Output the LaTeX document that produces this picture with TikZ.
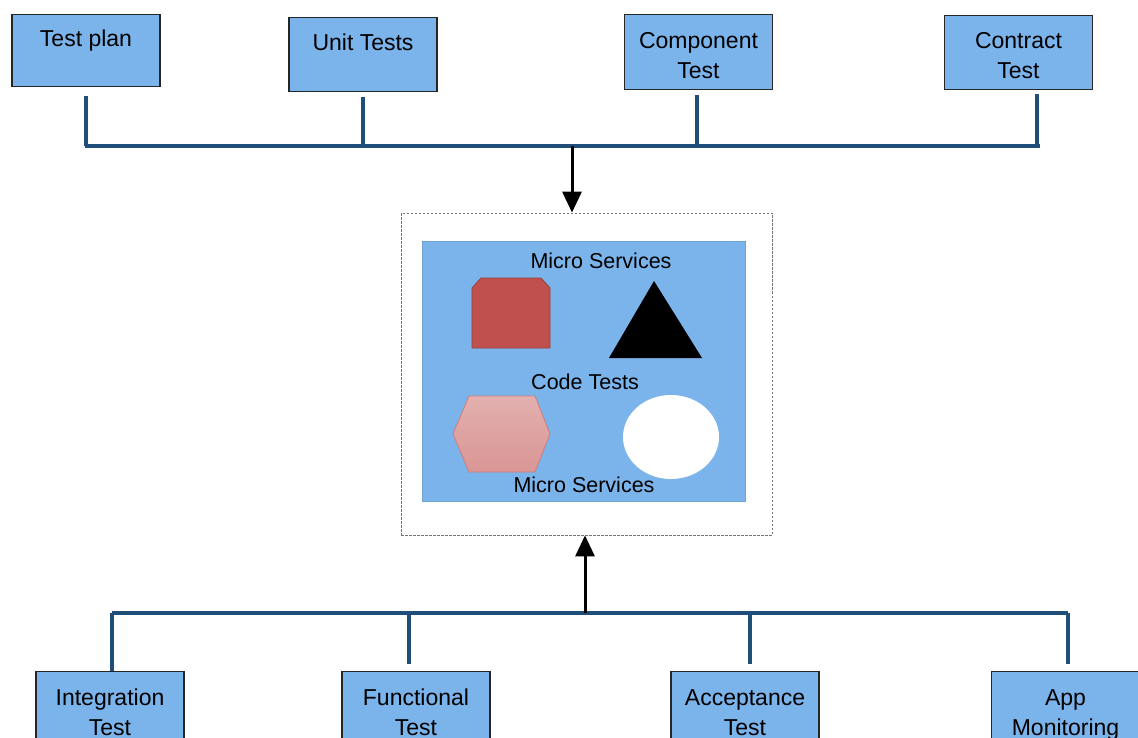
\documentclass[tikz,border=0pt]{standalone}
\usepackage{fontspec}
\setmainfont{Liberation Sans}
\usetikzlibrary{arrows.meta}
\definecolor{boxblue}{HTML}{7BB3EB}
\definecolor{busblue}{HTML}{1F4E79}
\definecolor{octred}{HTML}{C0504D}
\begin{document}
\begin{tikzpicture}[
        x=1pt, y=-1pt,
        testbox/.style={draw=black!85, fill=boxblue, line width=1.4pt, anchor=north,
            minimum width=148pt, minimum height=72pt, inner sep=0pt, align=center,
            text height=32pt, text depth=40pt, font=\fontsize{23}{30}\selectfont},
        twoline/.style={text height=62pt, text depth=10pt},
        bus/.style={draw=busblue, line width=3.5pt},
        flow/.style={draw=black, line width=3pt, -{Triangle[length=21pt,width=19pt]}},
        frame/.style={draw=black!55, line width=0.8pt, dash pattern=on 2.5pt off 1.5pt,
            minimum width=371pt, minimum height=322pt, inner sep=0pt},
        panel/.style={fill=boxblue, draw=boxblue!90!black, line width=0.6pt,
            minimum width=323pt, minimum height=260pt, inner sep=0pt},
        mstext/.style={font=\fontsize{21.5}{26}\selectfont, inner sep=0pt},
    ]
    \useasboundingbox (0,0) rectangle (1138,738);
    \clip (0,0) rectangle (1138,738);
    \node[testbox](tp) at (86,14){Test plan};
    \node[testbox, minimum height=74pt](ut) at (363,17){Unit Tests};
    \node[testbox, twoline, minimum height=75pt](cp) at (698.5,14){Component\\Test};
    \node[testbox, twoline, minimum height=74pt](ct) at (1018.5,15){Contract\\Test};
    \node[testbox, twoline, minimum height=75pt](it) at (110,671){Integration\\Test};
    \node[testbox, twoline, minimum height=75pt](ft) at (416,671){Functional\\Test};
    \node[testbox, twoline, minimum height=75pt](at) at (745,671){Acceptance\\Test};
    \node[testbox, twoline, minimum height=75pt](am) at (1065.5,671){App\\Monitoring};
    \node[frame](ms) at (586.5,374){};
    \node[panel](pn) at (583.5,371){};
    \draw[octred!80!black, fill=octred, line width=0.8pt]
        (472,348) -- (472,288) -- (481,278) -- (541,278) -- (550,288) -- (550,348) -- cycle;
    \fill[black] (654,281) -- (702,358) -- (609,358) -- cycle;
    \draw[octred!75!white, top color=octred!45!white, bottom color=octred!60!white, line width=0.8pt]
        (453,434) -- (469,396) -- (535,396) -- (550,434) -- (535,472) -- (469,472) -- cycle;
    \fill[white] (671,437) ellipse [x radius=48pt, y radius=42pt];
    \node[mstext](mstop) at (601,261){Micro Services};
    \node[mstext](code) at (585,382){Code Tests};
    \node[mstext](msbot) at (584,485){Micro Services};
    \coordinate (tbL) at (85,146);
    \coordinate (tbR) at (1040,146);
    \coordinate (tarr) at (572,146);
    \coordinate (bbL) at (112,613);
    \coordinate (bbR) at (1068,613);
    \coordinate (barr) at (585,613);
    \draw[bus] (tbL) -- (tbR);
    \draw[bus] ([yshift=-9pt]tp.south) -- (tp.south |- tbL);
    \draw[bus] ([yshift=-5pt]ut.south) -- (ut.south |- tbL);
    \draw[bus] ([xshift=-1.5pt, yshift=-5pt]cp.south) -- ([xshift=-1.5pt]cp.south |- tbL);
    \draw[bus] ([xshift=18.5pt, yshift=-4pt]ct.south) -- ([xshift=18.5pt]ct.south |- tbL);
    \draw[bus] (bbL) -- (bbR);
    \draw[bus] (bbL) -- (bbL |- it.north);
    \draw[bus] ([xshift=-7pt]ft.north |- bbL) -- ([xshift=-7pt, yshift=7pt]ft.north);
    \draw[bus] ([xshift=5pt]at.north |- bbL) -- ([xshift=5pt, yshift=7pt]at.north);
    \draw[bus] (bbR) -- ([yshift=7pt]bbR |- am.north);
    \draw[flow] (tarr) -- (tarr |- ms.north);
    \draw[flow] (barr) -- (barr |- ms.south);
\end{tikzpicture}
\end{document}
